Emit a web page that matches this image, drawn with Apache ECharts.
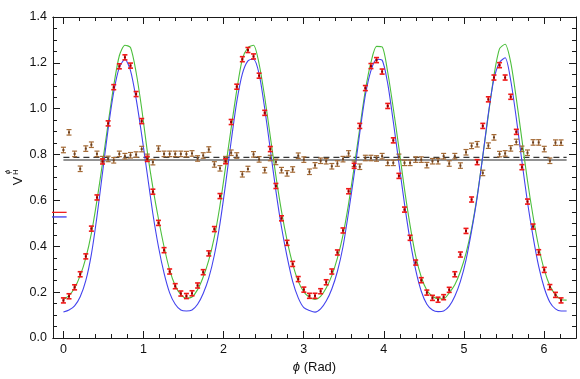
<!DOCTYPE html>
<html>
<head>
<meta charset="utf-8">
<script src="https://cdn.jsdelivr.net/npm/echarts@6/dist/echarts.min.js"></script>
<style>
html,body{margin:0;padding:0;background:#fff;}
#chart{width:580px;height:379px;}
</style>
</head>
<body>
<div id="chart"></div>
<script>
// ---- data ----
const phiDeg = [0,4,8,12,16,20,24,28,32,36,40,44,48,52,56,60,64,68,72,76,80,84,88,92,96,100,104,108,112,116,120,124,128,132,136,140,144,148,152,156,160,164,168,172,176,180,184,188,192,196,200,204,208,212,216,220,224,228,232,236,240,244,248,252,256,260,264,268,272,276,280,284,288,292,296,300,304,308,312,316,320,324,328,332,336,340,344,348,352,356];
const curveDeg = phiDeg.concat([360]);

const redVals = [0.164,0.182,0.221,0.278,0.356,0.477,0.613,0.770,0.936,1.094,
1.185,1.224,1.188,1.064,0.946,0.781,0.638,0.502,0.383,0.290,
0.226,0.194,0.183,0.195,0.229,0.287,0.369,0.475,0.619,0.771,
0.942,1.096,1.216,1.256,1.228,1.144,0.982,0.824,0.663,0.522,
0.415,0.323,0.257,0.211,0.184,0.184,0.204,0.243,0.290,0.373,
0.469,0.640,0.751,0.925,1.090,1.186,1.212,1.162,1.012,0.862,
0.707,0.560,0.437,0.329,0.252,0.198,0.175,0.167,0.178,0.210,
0.278,0.364,0.467,0.604,0.767,0.925,1.041,1.136,1.190,1.136,
1.052,0.899,0.745,0.595,0.486,0.374,0.297,0.222,0.188,0.164];
const redErr = 0.011;

const brownVals = [0.820,0.897,0.803,0.738,0.826,0.843,0.803,0.780,0.781,0.775,
0.803,0.793,0.797,0.800,0.824,0.790,0.767,0.826,0.803,0.803,
0.803,0.803,0.802,0.805,0.783,0.796,0.822,0.757,0.740,0.780,
0.808,0.796,0.714,0.737,0.801,0.779,0.732,0.785,0.768,0.732,
0.718,0.735,0.795,0.778,0.725,0.753,0.773,0.771,0.749,0.761,
0.780,0.805,0.760,0.747,0.785,0.785,0.783,0.793,0.764,0.764,
0.790,0.764,0.764,0.778,0.778,0.754,0.771,0.771,0.793,0.761,
0.793,0.752,0.810,0.838,0.845,0.720,0.839,0.875,0.802,0.805,
0.827,0.855,0.825,0.808,0.853,0.853,0.824,0.773,0.852,0.852];
const brownErr = 0.012;

const greenVals = [0.168,0.185,0.218,0.272,0.348,0.456,0.600,0.764,0.936,1.101,
1.231,1.277,1.267,1.159,1.001,0.814,0.656,0.520,0.398,0.297,
0.228,0.189,0.174,0.179,0.211,0.266,0.340,0.441,0.578,0.745,
0.915,1.080,1.216,1.267,1.277,1.195,1.051,0.879,0.707,0.553,
0.426,0.323,0.247,0.201,0.177,0.168,0.182,0.218,0.272,0.348,
0.449,0.585,0.745,0.915,1.080,1.202,1.272,1.270,1.159,1.001,
0.829,0.649,0.491,0.358,0.266,0.208,0.182,0.171,0.171,0.197,
0.232,0.290,0.369,0.477,0.620,0.793,0.972,1.145,1.262,1.281,
1.202,1.044,0.865,0.685,0.530,0.398,0.297,0.228,0.189,0.168,
0.165];

const blueVals = [0.113,0.122,0.140,0.180,0.250,0.365,0.530,0.722,0.912,1.073,
1.180,1.216,1.166,1.044,0.886,0.714,0.542,0.398,0.283,0.197,
0.147,0.122,0.118,0.122,0.147,0.194,0.262,0.362,0.499,0.671,
0.858,1.030,1.152,1.209,1.216,1.152,1.001,0.822,0.642,0.484,
0.355,0.247,0.175,0.132,0.120,0.113,0.127,0.161,0.214,0.290,
0.398,0.549,0.714,0.894,1.059,1.166,1.216,1.212,1.109,0.943,
0.764,0.585,0.426,0.297,0.204,0.147,0.122,0.115,0.118,0.139,
0.182,0.247,0.340,0.467,0.613,0.793,0.979,1.130,1.202,1.222,
1.123,0.958,0.771,0.592,0.441,0.312,0.218,0.156,0.127,0.118,
0.118];

const hLineDashed = 0.788;
const hLineSolid = 0.776;
const hLineSpan = [0, 6.283];
const refRed = 0.548;
const refBlue = 0.528;
const refSpan = [-0.21, 0.04];

const xMin = -0.13, xMax = 6.40;
const xMajorTicks = [0,1,2,3,4,5,6];
const xMinorTicks = [0.2,0.4,0.6,0.8,1.2,1.4,1.6,1.8,2.2,2.4,2.6,2.8,3.2,3.4,3.6,3.8,4.2,4.4,4.6,4.8,5.2,5.4,5.6,5.8,6.2];

// ---- build ----
const rad = d => d * Math.PI / 180;
const FONT = "'Liberation Sans', Arial, sans-serif";
const AX = '#1a1a1a';

function xAx(pos, ticks, len, labels){
  return {
    type:'value', min:xMin, max:xMax, position:pos,
    axisLine:{show:true, onZero:false, lineStyle:{color:AX, width:1}},
    axisTick:{show:true, inside:true, length:len, customValues:ticks, lineStyle:{color:AX, width:1}},
    axisLabel: labels ? {show:true, customValues:ticks, margin:5, color:'#111', fontSize:12.5, fontFamily:FONT, formatter:v=>String(Math.round(v))} : {show:false},
    splitLine:{show:false}
  };
}
function yAx(pos, labels){
  return {
    type:'value', min:0, max:1.4, interval:0.2, position:pos,
    axisLine:{show:true, onZero:false, lineStyle:{color:AX, width:1}},
    axisTick:{show:true, inside:true, length:7, lineStyle:{color:AX, width:1}},
    minorTick:{show:true, splitNumber:4, length:4, lineStyle:{color:AX, width:1}},
    axisLabel: labels ? {show:true, margin:6, color:'#111', fontSize:12.5, fontFamily:FONT, formatter:v=>v.toFixed(1)} : {show:false},
    splitLine:{show:false}
  };
}

function errRender(color, dotColor, hw, lw){
  return function(params, api){
    const x = api.value(0), y = api.value(1), e = api.value(2);
    const c = api.coord([x, y]);
    const t = api.coord([x, y + e]);
    const b = api.coord([x, y - e]);
    return {
      type:'group',
      children:[
        {type:'line', shape:{x1:c[0], y1:t[1], x2:c[0], y2:b[1]}, style:{stroke:color, lineWidth:lw}},
        {type:'line', shape:{x1:c[0]-hw, y1:t[1], x2:c[0]+hw, y2:t[1]}, style:{stroke:color, lineWidth:lw}},
        {type:'line', shape:{x1:c[0]-hw, y1:b[1], x2:c[0]+hw, y2:b[1]}, style:{stroke:color, lineWidth:lw}},
        {type:'rect', shape:{x:c[0]-1, y:c[1]-1, width:2, height:2}, style:{fill:dotColor}}
      ]
    };
  };
}

const redData = phiDeg.map((d,i)=>[rad(d), redVals[i], redErr]);
const brownData = phiDeg.map((d,i)=>[rad(d), brownVals[i], brownErr]);
const greenData = curveDeg.map((d,i)=>[rad(d), greenVals[i]]);
const blueData = curveDeg.map((d,i)=>[rad(d), blueVals[i]]);

const option = {
  animation:false,
  backgroundColor:'#fff',
  grid:{left:53, right:4, top:17, bottom:37, containLabel:false},
  xAxis:[
    Object.assign(xAx('bottom', xMajorTicks, 7, true), {
      name:'{i|ϕ} (Rad)', nameLocation:'middle', nameGap:23,
      nameTextStyle:{color:'#111', fontSize:13, fontFamily:FONT,
        rich:{i:{fontStyle:'italic', fontSize:13, fontFamily:FONT, color:'#111'}}}
    }),
    xAx('bottom', xMinorTicks, 4, false),
    xAx('top', xMajorTicks, 7, false),
    xAx('top', xMinorTicks, 4, false)
  ],
  yAxis:[ yAx('left', true), yAx('right', false) ],
  graphic:[
    {type:'text', x:18.5, y:181, rotation:Math.PI/2, style:{text:'V', font:"13px 'Liberation Sans', Arial, sans-serif", fill:'#111', textAlign:'center', textVerticalAlign:'middle'}},
    {type:'text', x:15.5, y:172, rotation:Math.PI/2, style:{text:'H', font:"8px 'Liberation Sans', Arial, sans-serif", fill:'#111', textAlign:'center', textVerticalAlign:'middle'}},
    {type:'text', x:7.5, y:172, rotation:Math.PI/2, style:{text:'ϕ', font:"italic 8px 'Liberation Sans', Arial, sans-serif", fill:'#111', textAlign:'center', textVerticalAlign:'middle'}}
  ],
  series:[
    {type:'line', name:'solid', xAxisIndex:0, yAxisIndex:0, data:[[hLineSpan[0], hLineSolid],[hLineSpan[1], hLineSolid]], symbol:'none', lineStyle:{color:'#6e6e6e', width:1.4}, z:2},
    {type:'line', name:'dashed', xAxisIndex:0, yAxisIndex:0, data:[[hLineSpan[0], hLineDashed],[hLineSpan[1], hLineDashed]], symbol:'none', lineStyle:{color:'#333', width:1.2, type:[6,4]}, z:2},
    {type:'line', name:'refRed', xAxisIndex:0, yAxisIndex:0, data:[[refSpan[0], refRed],[refSpan[1], refRed]], symbol:'none', clip:false, lineStyle:{color:'#f02020', width:1.3}, z:2},
    {type:'line', name:'refBlue', xAxisIndex:0, yAxisIndex:0, data:[[refSpan[0], refBlue],[refSpan[1], refBlue]], symbol:'none', clip:false, lineStyle:{color:'#3b3bf0', width:1.3}, z:2},
    {type:'line', name:'green', xAxisIndex:0, yAxisIndex:0, data:greenData, symbol:'none', smooth:0.25, lineStyle:{color:'#4cbf3c', width:1.1}, z:3},
    {type:'line', name:'blue', xAxisIndex:0, yAxisIndex:0, data:blueData, symbol:'none', smooth:0.25, lineStyle:{color:'#4343ee', width:1.1}, z:3},
    {type:'custom', name:'brown', xAxisIndex:0, yAxisIndex:0, data:brownData, encode:{x:0, y:1}, renderItem:errRender('#a46a35', '#6b4020', 2.5, 1.2), z:4},
    {type:'custom', name:'red', xAxisIndex:0, yAxisIndex:0, data:redData, encode:{x:0, y:1}, renderItem:errRender('#f01818', '#8a0000', 2.5, 1.6), z:5}
  ]
};

const chart = echarts.init(document.getElementById('chart'), null, {renderer:'canvas'});
chart.setOption(option);
</script>
</body>
</html>
